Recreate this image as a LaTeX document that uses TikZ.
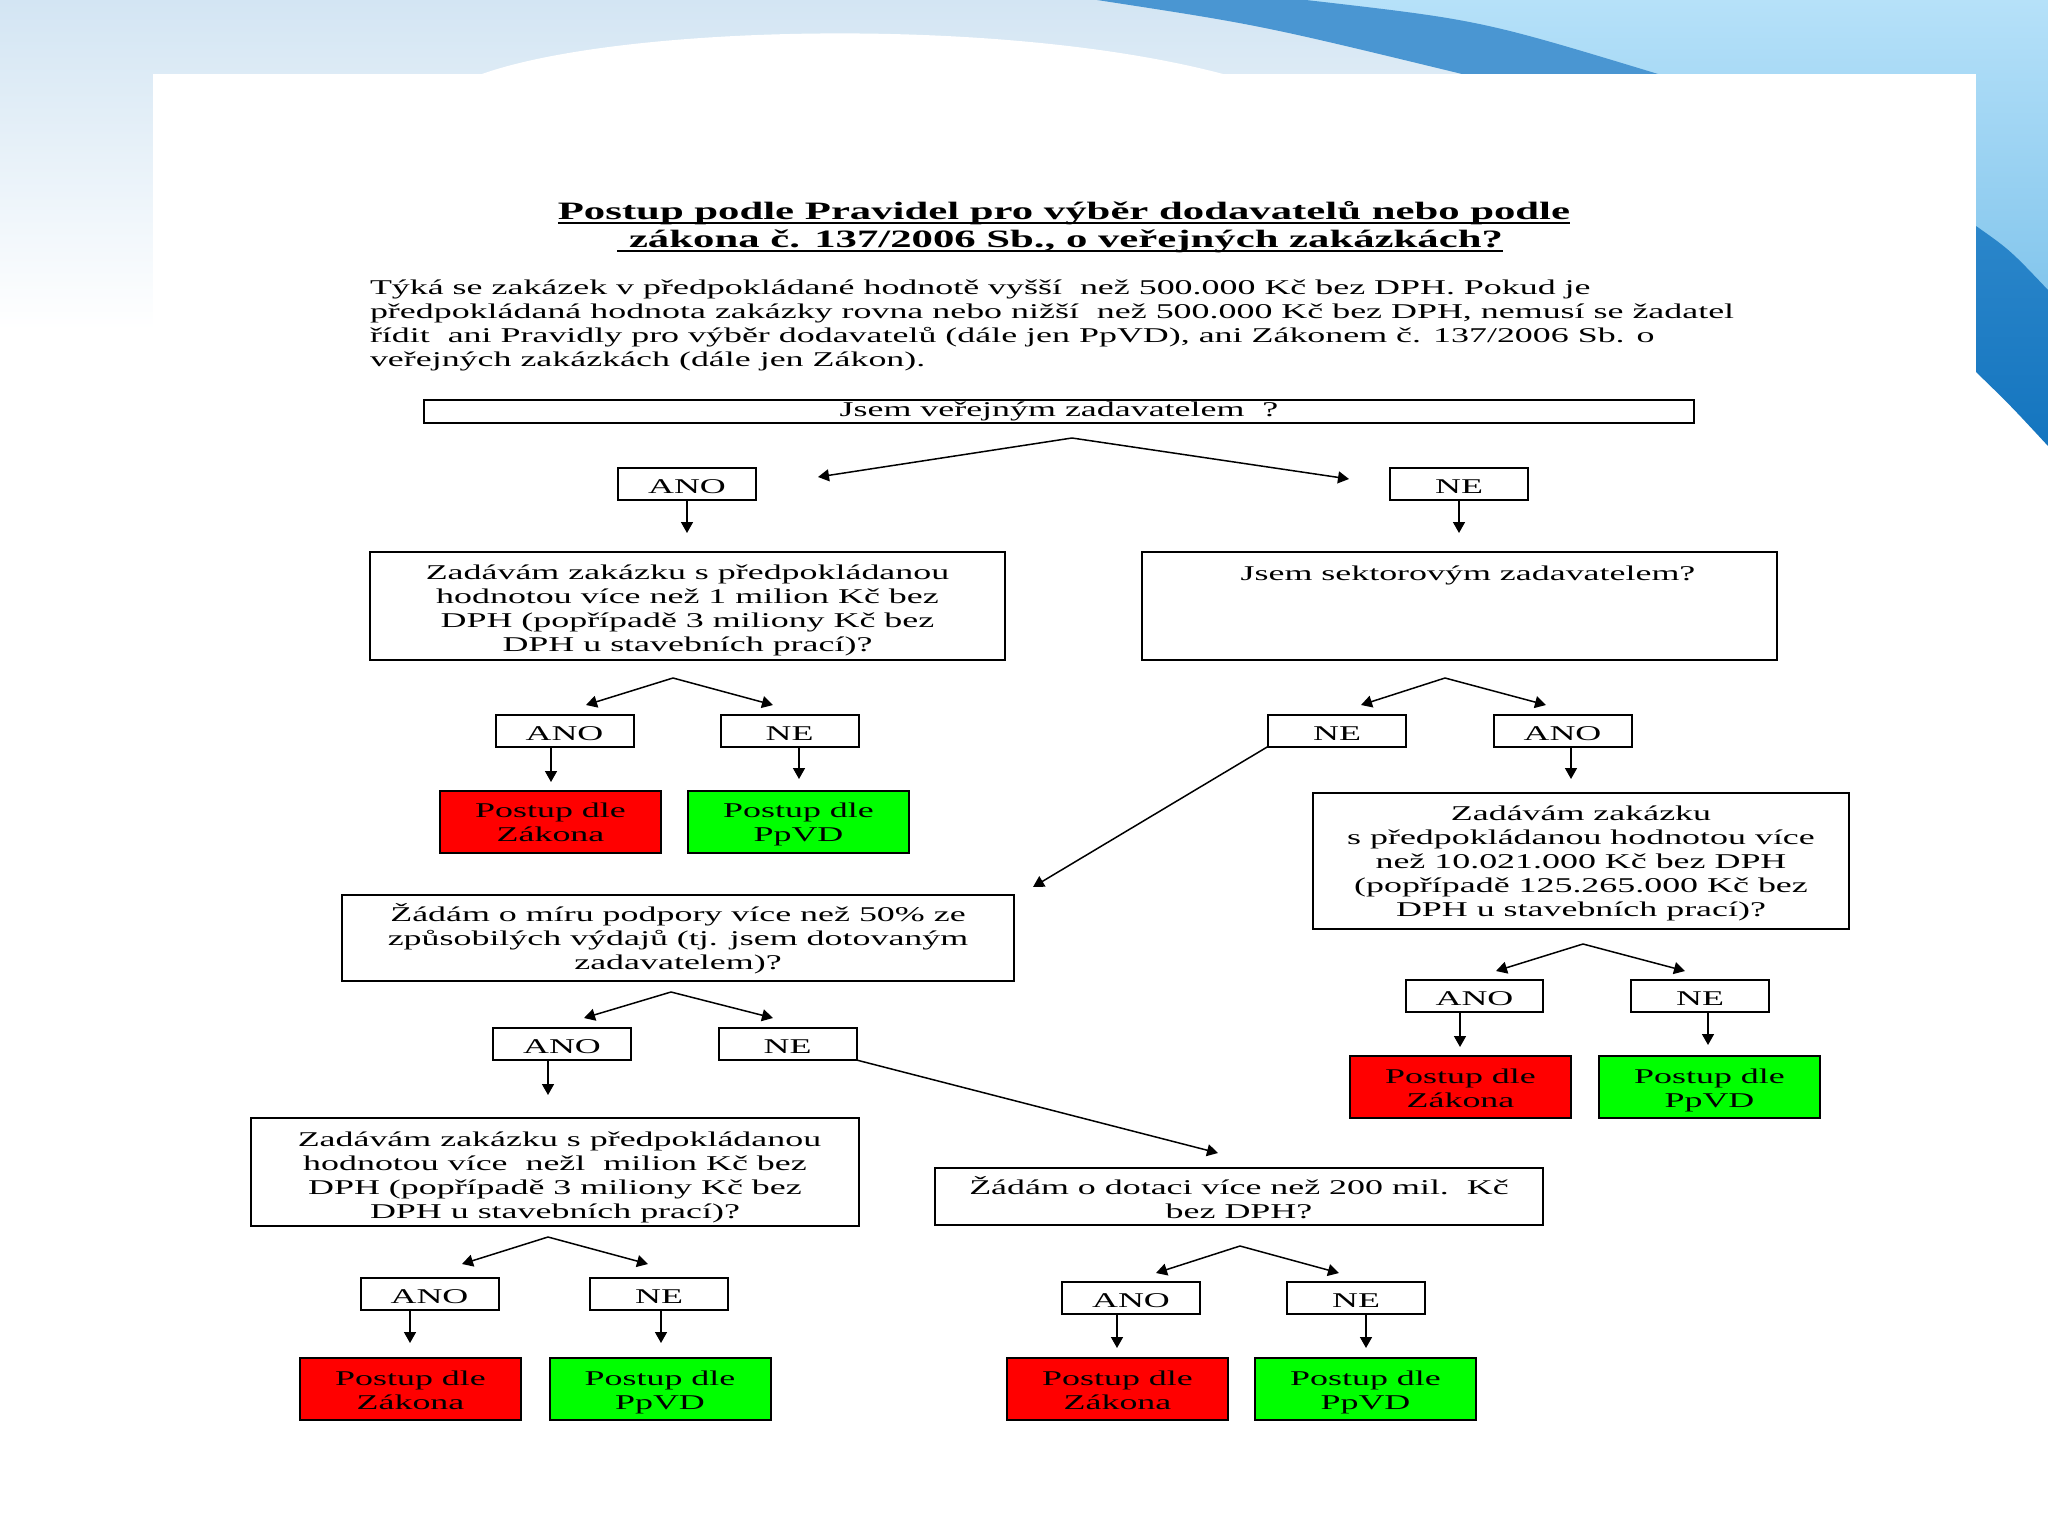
\documentclass[tikz,border=0pt]{standalone}
\usepackage{fontspec}
\setmainfont{Liberation Serif}[FakeStretch=1.71]
\usetikzlibrary{arrows.meta,calc}
\definecolor{zred}{HTML}{FF0000}
\definecolor{zgreen}{HTML}{00FF00}
\definecolor{topbl}{HTML}{D3E5F3}
\definecolor{ltbl}{HTML}{B6E1F9}
\definecolor{ltbltwo}{HTML}{82C5EC}
\definecolor{dkbl}{HTML}{4A96D2}
\definecolor{dkbltwo}{HTML}{2B86CA}
\definecolor{dkblthree}{HTML}{1475BF}
\newcommand{\tstr}[1][23pt]{\rule{0pt}{#1}}
\newcommand{\bstr}[1][4pt]{\rule[-#1]{0pt}{#1}}
\begin{document}
\begin{tikzpicture}[x=1pt,y=-1pt,
  every node/.style={inner sep=0pt, outer sep=0pt},
  txt/.style={font=\fontsize{21}{24}\selectfont, align=center},
  box/.style={draw=black, line width=2pt, fill=white, txt},
  onebox/.style={box, execute at begin node={\tstr}, execute at end node={\bstr}},
  ynbox/.style={onebox, minimum width=138pt, minimum height=32pt},
  redbox/.style={box, fill=zred, minimum width=221pt, minimum height=62pt},
  greenbox/.style={box, fill=zgreen, minimum width=221pt, minimum height=62pt},
  titletxt/.style={font=\fontsize{25}{28}\selectfont\bfseries, anchor=base},
  bodytxt/.style={font=\fontsize{21}{24}\selectfont, anchor=base west},
  arr/.style={line width=1.5pt, -{Triangle[length=11pt,width=12pt]}},
  uline/.style={line width=2.5pt}
]
\useasboundingbox (0,0) rectangle (2048,1536);
% ---------- background ----------
\fill[white] (0,0) rectangle (2048,1536);
\shade[top color=topbl, bottom color=white] (0,0) rectangle (2048,330);
\shade[top color=ltbl, bottom color=ltbltwo] (1250,0) -- (2048,0) -- (2048,300) -- (1976,240) -- (1976,74) -- (1600,74) -- cycle;
\fill[dkbl] (1097,0) .. controls (1260,25) .. (1462,74) -- (1658,74) .. controls (1480,20) .. (1306,0) -- cycle;
\shade[top color=dkbltwo, bottom color=dkblthree] (1976,226) .. controls (2010,250) .. (2048,290) -- (2048,446) .. controls (2010,405) .. (1976,372) -- cycle;
\fill[white] (482,74) .. controls (620,25) and (1000,15) .. (1223,74) -- cycle;
\fill[white] (153,74) rectangle (1976,1536);
% ---------- title and intro ----------
\node[titletxt] (t1) at (1064,219) {Postup podle Pravidel pro výběr dodavatelů nebo podle};
\node[titletxt] (t2) at (1066,247) {zákona č. 137/2006 Sb., o veřejných zakázkách?};
\draw[uline] ([yshift=-4pt]t1.base west) -- ([yshift=-4pt]t1.base east);
\draw[uline] ([xshift=-12pt,yshift=-4pt]t2.base west) -- ([yshift=-4pt]t2.base east);
\node[bodytxt] (b1) at (370,294.5) {Týká se zakázek v předpokládané hodnotě vyšší\ \ než 500.000 Kč bez DPH. Pokud je};
\node[bodytxt] (b2) at (370,318.5) {předpokládaná hodnota zakázky rovna nebo nižší\ \ než 500.000 Kč bez DPH, nemusí se žadatel};
\node[bodytxt] (b3) at (370,342.5) {řídit\ \ ani Pravidly pro výběr dodavatelů (dále jen PpVD), ani Zákonem č. 137/2006 Sb. o};
\node[bodytxt] (b4) at (370,366.5) {veřejných zakázkách (dále jen Zákon).};
% ---------- boxes ----------
\node[box, minimum width=1270pt, minimum height=23pt] (root) at (1059,411.5) {Jsem veřejným zadavatelem\ \ ?};
\node[ynbox] (ano1) at (687,484) {ANO};
\node[ynbox] (ne1) at (1459,483.5) {NE};
\node[box, minimum width=635pt, minimum height=108pt] (q1) at (687.5,606) {\tstr Zadávám zakázku s předpokládanou\\hodnotou více než 1 milion Kč bez\\DPH (popřípadě 3 miliony Kč bez\\DPH u stavebních prací)?\bstr};
\node[box, minimum width=635pt, minimum height=108pt] (q2) at (1459.5,606) {};
\node[txt, anchor=base] (q2t) at (1468,580) {Jsem sektorovým zadavatelem?};
\node[ynbox] (ano2) at (564.5,730.5) {ANO};
\node[ynbox] (ne2) at (789.5,730.5) {NE};
\node[ynbox] (ne3) at (1337,730.5) {NE};
\node[ynbox] (ano3) at (1562.5,730.5) {ANO};
\node[redbox] (r1) at (550.5,821.5) {\tstr Postup dle\\Zákona\bstr[6.6pt]};
\node[greenbox] (g1) at (798.5,821.5) {\tstr Postup dle\\PpVD\bstr[6.6pt]};
\node[box, minimum width=536pt, minimum height=136pt] (q3) at (1581,861) {\tstr Zadávám zakázku\\s předpokládanou hodnotou více\\než 10.021.000 Kč bez DPH\\(popřípadě 125.265.000 Kč bez\\DPH u stavebních prací)?\bstr[9pt]};
\node[box, minimum width=672pt, minimum height=86pt] (q4) at (678,938) {\tstr Žádám o míru podpory více než 50\% ze\\způsobilých výdajů (tj. jsem dotovaným\\zadavatelem)?\bstr[8pt]};
\node[ynbox] (ano4) at (562,1044) {ANO};
\node[ynbox] (ne4) at (787.5,1044) {NE};
\node[ynbox, minimum width=137pt] (ano5) at (1474.5,996) {ANO};
\node[ynbox] (ne5) at (1700,996) {NE};
\node[redbox] (r5) at (1460.5,1087) {\tstr Postup dle\\Zákona\bstr[6.6pt]};
\node[greenbox] (g5) at (1709.5,1087) {\tstr Postup dle\\PpVD\bstr[6.6pt]};
\node[box, minimum width=608pt, minimum height=108pt] (q5) at (555,1172) {\tstr[25.6pt] Zadávám zakázku s předpokládanou\\hodnotou více\ \ nežl\ \ milion Kč bez\\DPH (popřípadě 3 miliony Kč bez\\DPH u stavebních prací)?\bstr};
\node[box, minimum width=608pt, minimum height=57pt] (q6) at (1239,1196.5) {\tstr Žádám o dotaci více než 200 mil.\ \ Kč\\bez DPH?\bstr};
\node[ynbox] (ano6) at (429.5,1294) {ANO};
\node[ynbox] (ne6) at (659,1294) {NE};
\node[redbox] (r6) at (410.5,1389) {\tstr Postup dle\\Zákona\bstr[6.6pt]};
\node[greenbox] (g6) at (660,1389) {\tstr Postup dle\\PpVD\bstr[6.6pt]};
\node[ynbox] (ano7) at (1131,1298) {ANO};
\node[ynbox] (ne7) at (1356,1298) {NE};
\node[redbox] (r7) at (1117.5,1389) {\tstr Postup dle\\Zákona\bstr[6.6pt]};
\node[greenbox] (g7) at (1365.5,1389) {\tstr Postup dle\\PpVD\bstr[6.6pt]};
% ---------- forks ----------
\coordinate (f0) at (1072,438); \coordinate (f0l) at (818,477); \coordinate (f0r) at (1349,479);
\coordinate (f1) at (673,678); \coordinate (f1l) at (586,705); \coordinate (f1r) at (773,705);
\coordinate (f2) at (1445,678); \coordinate (f2l) at (1361,705); \coordinate (f2r) at (1546,705);
\coordinate (f3) at (1583,944); \coordinate (f3l) at (1496,971); \coordinate (f3r) at (1685,971);
\coordinate (f4) at (671,992); \coordinate (f4l) at (584,1018); \coordinate (f4r) at (773,1018);
\coordinate (f5) at (548,1237); \coordinate (f5l) at (462,1264); \coordinate (f5r) at (648,1264);
\coordinate (f6) at (1240,1246); \coordinate (f6l) at (1156,1273); \coordinate (f6r) at (1339,1273);
\foreach \f in {f0,f1,f2,f3,f4,f5,f6}{
  \draw[arr] (\f) -- (\f l);
  \draw[arr] (\f) -- (\f r);
}
% ---------- vertical arrows ----------
\coordinate (a1e) at (687,533);
\coordinate (n1e) at (1459,533);
\coordinate (a2e) at (551,782);
\coordinate (n2e) at (799,779);
\coordinate (a3e) at (1571,779);
\coordinate (a4e) at (548,1095);
\coordinate (a5e) at (1460,1047);
\coordinate (n5e) at (1708,1045);
\coordinate (a6e) at (410,1343);
\coordinate (n6e) at (661,1343);
\coordinate (a7e) at (1117,1348);
\coordinate (n7e) at (1366,1348);
\draw[arr] (ano1.south -| a1e) -- (a1e);
\draw[arr] (ne1.south -| n1e) -- (n1e);
\draw[arr] (ano2.south -| a2e) -- (a2e);
\draw[arr] (ne2.south -| n2e) -- (n2e);
\draw[arr] (ano3.south -| a3e) -- (a3e);
\draw[arr] (ano4.south -| a4e) -- (a4e);
\draw[arr] (ano5.south -| a5e) -- (a5e);
\draw[arr] (ne5.south -| n5e) -- (n5e);
\draw[arr] (ano6.south -| a6e) -- (a6e);
\draw[arr] (ne6.south -| n6e) -- (n6e);
\draw[arr] (ano7.south -| a7e) -- (a7e);
\draw[arr] (ne7.south -| n7e) -- (n7e);
% ---------- diagonals ----------
\coordinate (d1e) at (1033,887);
\coordinate (d2e) at (1218,1153);
\draw[arr] (ne3.south west) -- (d1e);
\draw[arr] (ne4.south east) -- (d2e);
\end{tikzpicture}
\end{document}
